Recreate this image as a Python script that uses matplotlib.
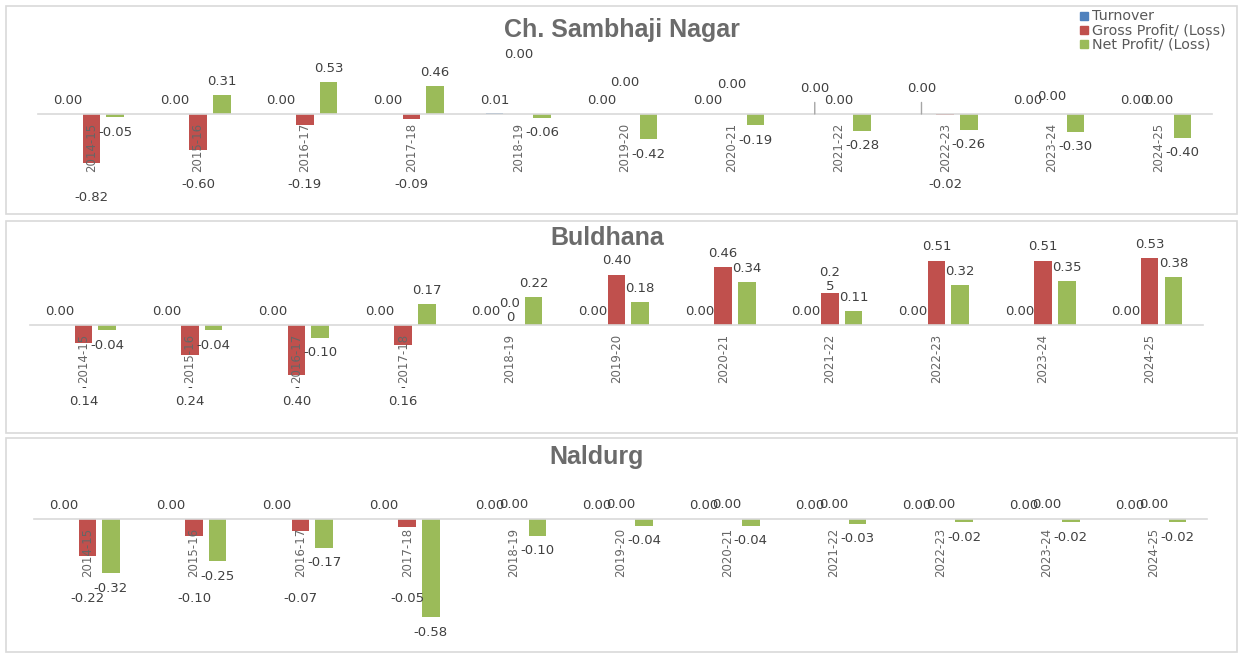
import numpy as np
import matplotlib
matplotlib.use("Agg")
import matplotlib.pyplot as plt
from matplotlib.patches import Rectangle

years = ["2014-15", "2015-16", "2016-17", "2017-18", "2018-19", "2019-20",
         "2020-21", "2021-22", "2022-23", "2023-24", "2024-25"]
series_names = ["Turnover", "Gross Profit/ (Loss)", "Net Profit/ (Loss)"]

sambhaji_turnover = [0.00, 0.00, 0.00, 0.00, 0.01, 0.00, 0.00, 0.00, 0.00, 0.00, 0.00]
sambhaji_gross = [-0.82, -0.60, -0.19, -0.09, 0.00, 0.00, 0.00, 0.00, -0.02, 0.00, 0.00]
sambhaji_net = [-0.05, 0.31, 0.53, 0.46, -0.06, -0.42, -0.19, -0.28, -0.26, -0.30, -0.40]

buldhana_turnover = [0.00, 0.00, 0.00, 0.00, 0.00, 0.00, 0.00, 0.00, 0.00, 0.00, 0.00]
buldhana_gross = [-0.14, -0.24, -0.40, -0.16, 0.00, 0.40, 0.46, 0.25, 0.51, 0.51, 0.53]
buldhana_net = [-0.04, -0.04, -0.10, 0.17, 0.22, 0.18, 0.34, 0.11, 0.32, 0.35, 0.38]

naldurg_turnover = [0.00, 0.00, 0.00, 0.00, 0.00, 0.00, 0.00, 0.00, 0.00, 0.00, 0.00]
naldurg_gross = [-0.22, -0.10, -0.07, -0.05, 0.00, 0.00, 0.00, 0.00, 0.00, 0.00, 0.00]
naldurg_net = [-0.32, -0.25, -0.17, -0.58, -0.10, -0.04, -0.04, -0.03, -0.02, -0.02, -0.02]

colors = ["#4F81BD", "#C0504D", "#9BBB59"]
LABEL_C = "#404040"
TICK_C = "#666666"
TITLE_C = "#6b6b6b"
LINE_C = "#d9d9d9"

W, H = 1239, 654
PT = 72 / 100  # points per pixel


def fx(px):
    return px / W


def fy(py):
    return 1 - py / H


# layout of each panel in pixels (box, plot area, zero line, pixels per unit)
panels = [
    dict(title="Ch. Sambhaji Nagar", data=(sambhaji_turnover, sambhaji_gross, sambhaji_net),
         box=(6, 6, 1237, 214), left=38, right=1212, top=8, bottom=212,
         zero=114, ppu=60, tx=622, ty=30, neg_gap=70, neg_pad=34,
         gross_lift={4: 46, 5: 18, 6: 16, 9: 4}, leader={7: 12, 8: 12}, wrap=set()),
    dict(title="Buldhana", data=(buldhana_turnover, buldhana_gross, buldhana_net),
         box=(6, 221, 1237, 433), left=30, right=1203, top=223, bottom=431,
         zero=325, ppu=126, tx=607, ty=238, neg_gap=70, neg_pad=10,
         gross_lift={}, leader={}, wrap={0, 1, 2, 3, 4, 7}),
    dict(title="Naldurg", data=(naldurg_turnover, naldurg_gross, naldurg_net),
         box=(6, 438, 1237, 652), left=34, right=1207, top=440, bottom=650,
         zero=518.7, ppu=170, tx=597, ty=457, neg_gap=80, neg_pad=20,
         gross_lift={}, leader={}, wrap=set()),
]

fig = plt.figure(figsize=(12.39, 6.54), dpi=100)
x = np.arange(len(years))
width = 0.165
off = 0.222


def put(ax, xpos, yval, text, dy_px, **kw):
    ax.annotate(text, (xpos, yval), xytext=(0, dy_px * PT), textcoords="offset points",
                ha="center", va="center", fontsize=9.5, color=LABEL_C,
                linespacing=1.1, **kw)


for p in panels:
    x0, y0, x1, y1 = p["box"]
    fig.patches.append(Rectangle((fx(x0), fy(y1)), fx(x1) - fx(x0), fy(y0) - fy(y1),
                                 transform=fig.transFigure, fill=False,
                                 ec=LINE_C, lw=1.2))
    ax = fig.add_axes([fx(p["left"]), fy(p["bottom"]),
                       fx(p["right"]) - fx(p["left"]), fy(p["top"]) - fy(p["bottom"])])
    ax.patch.set_alpha(0)
    ax.set_xlim(-0.5, len(years) - 0.5)
    ax.set_ylim(-(p["bottom"] - p["zero"]) / p["ppu"], (p["zero"] - p["top"]) / p["ppu"])
    for s in ["top", "right", "left"]:
        ax.spines[s].set_visible(False)
    ax.spines["bottom"].set_position(("data", 0))
    ax.spines["bottom"].set_color(LINE_C)
    ax.spines["bottom"].set_linewidth(1.2)
    ax.set_yticks([])
    ax.set_xticks(x)
    ax.set_xticklabels(years, rotation=90, fontsize=8.5, color=TICK_C)
    ax.tick_params(axis="x", length=0, pad=9 * PT)

    turnover, gross, net = p["data"]
    ax.bar(x - off, turnover, width, color=colors[0])
    ax.bar(x, gross, width, color=colors[1])
    ax.bar(x + off, net, width, color=colors[2])

    for i in range(len(years)):
        # turnover labels
        t = turnover[i]
        if i in p["leader"]:
            ax.annotate(f"{t:.2f}", (x[i] - off, 0),
                        xytext=(0, (13 + p["leader"][i]) * PT), textcoords="offset points",
                        ha="center", va="center", fontsize=9.5, color=LABEL_C,
                        arrowprops=dict(arrowstyle="-", color="#a6a6a6", lw=1,
                                        shrinkA=3, shrinkB=0))
        else:
            put(ax, x[i] - off, t, f"{t:.2f}", 13)

        # gross labels
        g = gross[i]
        if g >= 0:
            txt = f"{g:.2f}"
            if i in p["wrap"]:
                txt = txt[:3] + "\n" + txt[3:]
            put(ax, x[i], g, txt, 14 + p["gross_lift"].get(i, 0))
        else:
            txt = f"{g:.2f}"
            if i in p["wrap"]:
                txt = "-\n" + f"{abs(g):.2f}"
            dy = max(abs(g) * p["ppu"] + p["neg_pad"], p["neg_gap"])
            put(ax, x[i], 0, txt, -dy)

        # net labels
        n = net[i]
        put(ax, x[i] + off, n, f"{n:.2f}", 13.5 if n >= 0 else -15)

    fig.text(fx(p["tx"]), fy(p["ty"]), p["title"], ha="center", va="center",
             fontsize=18, fontweight="bold", color=TITLE_C, family="Liberation Sans")

# legend in the top right corner
for k, name in enumerate(series_names):
    cy = 16 + 14 * k
    fig.patches.append(Rectangle((fx(1080), fy(cy + 4)), 8 / W, 8 / H,
                                 transform=fig.transFigure, color=colors[k]))
    fig.text(fx(1092), fy(cy), name, ha="left", va="center", fontsize=10.3,
             color="#595959")

fig.savefig("out.png", dpi=100, facecolor="white")
